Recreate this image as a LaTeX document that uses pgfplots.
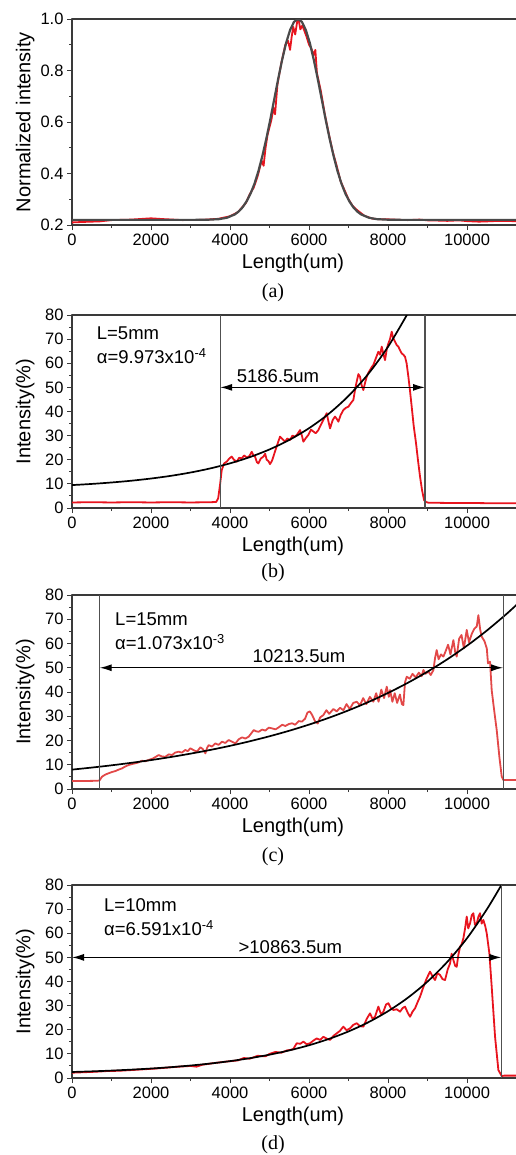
\documentclass[border=0pt]{standalone}
\usepackage{fontspec}
\setmainfont{Liberation Sans}
\newfontfamily\capfont{Liberation Serif}
\usepackage{pgfplots}
\pgfplotsset{compat=1.18}
\usetikzlibrary{arrows.meta}

\definecolor{redline}{HTML}{E8141E}
\definecolor{redlight}{HTML}{E24848}
\definecolor{fitgray}{HTML}{4A4A4A}
\definecolor{axgray}{HTML}{3A3A3A}
\definecolor{vgray}{HTML}{505050}

\tikzset{
  note/.style={font=\fontsize{18.5bp}{22bp}\selectfont, inner sep=0pt},
  arr/.style={black, line width=1.3bp, {Latex[length=12bp,width=7bp]}-{Latex[length=12bp,width=7bp]}},
  vline/.style={vgray, line width=1.2bp},
}

\pgfplotsset{
  panel/.style={
    scale only axis, width=446.4bp,
    xmin=0, xmax=11300,
    xtick={0,2000,4000,6000,8000,10000}, minor x tick num=1,
    minor y tick num=1,
    tick pos=left, tick align=outside,
    major tick length=5bp, minor tick length=3bp,
    every tick/.style={axgray, line width=1bp},
    axis line style={axgray, line width=1.5bp},
    tick label style={font=\fontsize{16.5bp}{19bp}\selectfont},
    label style={font=\fontsize{20bp}{23bp}\selectfont},
    /pgf/number format/assume math mode=true,
    /pgf/number format/set thousands separator={},
    scaled x ticks=false,
    xlabel={Length(um)},
    xlabel style={at={(axis description cs:0.495,0)}, anchor=center, yshift=-38bp},
    ylabel style={at={(axis description cs:-0.105,0.5)}, anchor=center},
    line join=round,
  },
  pct/.style={ymin=0, ymax=80, ytick={0,10,20,30,40,50,60,70,80}, ylabel={Intensity(\%)}},
}

\begin{document}
\begin{tikzpicture}
\path[use as bounding box] (0,0) rectangle (516bp,-1155bp);

% (a)
\begin{axis}[panel, at={(72bp,-225bp)}, height=206bp,
  ymin=0.2, ymax=1.0, ytick={0.2,0.4,0.6,0.8,1.0},
  yticklabel style={/pgf/number format/.cd, fixed, fixed zerofill, precision=1},
  ylabel={Normalized intensity}]
\addplot[redline, line width=1.8bp] coordinates {
(0,0.210) (300,0.212) (700,0.214) (1000,0.219) (1500,0.221) (2000,0.226) (2300,0.223)
(2800,0.219) (3300,0.220) (3700,0.224) (4000,0.234) (4200,0.250) (4400,0.285) (4500,0.320)
(4600,0.345) (4700,0.390) (4800,0.450) (4850,0.430) (4900,0.500) (4950,0.550) (5000,0.580)
(5050,0.610) (5100,0.655) (5140,0.630) (5200,0.745) (5300,0.830) (5400,0.900) (5470,0.915)
(5520,0.880) (5560,0.930) (5600,0.970) (5650,0.940) (5700,0.990) (5740,0.995) (5780,0.960)
(5830,0.975) (5880,0.955) (5940,0.930) (6000,0.900) (6060,0.885) (6120,0.860) (6160,0.880)
(6200,0.790) (6300,0.720) (6400,0.630) (6500,0.555) (6600,0.485) (6700,0.430) (6800,0.370)
(6900,0.335) (7000,0.300) (7100,0.275) (7200,0.260) (7400,0.236) (7600,0.225) (7800,0.222)
(8000,0.222) (8300,0.220) (8500,0.219) (8800,0.221) (9000,0.218) (9300,0.217) (9500,0.216)
(9800,0.218) (10000,0.215) (10300,0.213) (10500,0.214) (10800,0.216) (11000,0.216) (11300,0.214)};
\addplot[fitgray, line width=2.2bp] coordinates {
(0,0.220) (3120,0.220) (3420,0.2204) (3720,0.2227) (3920,0.228) (4120,0.241) (4220,0.2525)
(4320,0.269) (4420,0.292) (4520,0.322) (4620,0.361) (4720,0.410) (4820,0.469) (4920,0.536)
(5020,0.610) (5120,0.689) (5220,0.768) (5320,0.842) (5420,0.907) (5520,0.957) (5620,0.989)
(5720,1.000) (5820,0.989) (5920,0.957) (6020,0.907) (6120,0.842) (6220,0.768) (6320,0.689)
(6420,0.610) (6520,0.536) (6620,0.469) (6720,0.410) (6820,0.361) (6920,0.322) (7020,0.292)
(7120,0.269) (7220,0.2525) (7320,0.241) (7520,0.228) (7720,0.2227) (8020,0.2204) (8320,0.220)
(11300,0.220)};
\end{axis}
\node[font=\capfont\fontsize{20bp}{24bp}\selectfont] at (273bp,-293bp) {(a)};

% (b)
\begin{axis}[panel, pct, at={(72bp,-508bp)}, height=193bp]
\addplot[redline, line width=1.8bp] coordinates {
(0,2.3) (500,2.4) (1000,2.3) (1500,2.4) (2000,2.3) (2500,2.4) (3000,2.3) (3500,2.4) (3650,2.5)
(3700,4) (3750,10) (3790,15.7) (3850,18.5) (3916,19.2) (3980,20.5) (4042,21.3) (4100,20.0)
(4169,19.2) (4230,20.8) (4295,20.6) (4360,21.8) (4422,20.9) (4490,21.5) (4549,23.3) (4590,22.0)
(4633,21.3) (4680,19.0) (4717,18.5) (4780,20.5) (4844,21.3) (4890,22.5) (4928,20) (4970,19.5)
(5013,18.2) (5060,19.5) (5097,21.3) (5180,25.5) (5266,29.6) (5330,28.5) (5392,27.5) (5450,28.8)
(5519,28.2) (5580,30.0) (5646,29.6) (5700,30.5) (5772,32.3) (5820,30) (5857,27.5) (5920,29)
(5983,30.3) (6050,32.5) (6110,31.7) (6170,31.0) (6236,32.3) (6300,34.5) (6363,36.5) (6447,39.3)
(6490,36.0) (6532,33.0) (6600,36.5) (6658,37.9) (6700,37.0) (6743,35.8) (6800,38.5) (6869,40.6)
(6930,41.5) (6996,42.0) (7060,43.5) (7122,44.8) (7170,49.5) (7207,52.4) (7250,55.5) (7291,54.4)
(7330,51) (7375,48.9) (7420,52) (7460,54.4) (7500,56) (7544,57.2) (7590,58.5) (7628,59.3)
(7690,62) (7755,64.8) (7800,63.5) (7840,66.9) (7880,64) (7924,61.3) (7970,66) (8008,68.2)
(8050,70) (8093,73.1) (8130,70.5) (8177,68.9) (8220,67.5) (8262,66.9) (8300,65.5) (8346,64.1)
(8390,63.5) (8430,62.7) (8470,60) (8515,54.4) (8560,48) (8599,42.0) (8650,34) (8709,26.8)
(8760,19.5) (8810,13.0) (8860,7.5) (8911,3.3) (8960,2.5) (9021,2.2) (9500,2.1) (10000,2.1)
(10500,2.0) (11000,2.0) (11300,2.0)};
\addplot[black, line width=1.7bp, smooth] coordinates {
(0,9.50) (500,9.98) (1000,10.58) (1500,11.31) (2000,12.22) (2500,13.33) (3000,14.71)
(3500,16.41) (4000,18.51) (4500,21.09) (5000,24.28) (5500,28.22) (6000,33.08) (6500,39.06)
(7000,46.47) (7500,55.59) (8000,66.83) (8480,80.1)};
\addplot[vline] coordinates {(3750,0) (3750,80)};
\addplot[vline] coordinates {(8936.5,0) (8936.5,80)};
\addplot[arr] coordinates {(3750,50) (8936.5,50)};
\node[note, anchor=west] at (axis cs:625,72.3) {L=5mm};
\node[note, anchor=west] at (axis cs:625,62.9) {α=9.973x10\textsuperscript{-4}};
\node[note] at (axis cs:5215,54.7) {5186.5um};
\end{axis}
\node[font=\capfont\fontsize{20bp}{24bp}\selectfont] at (273bp,-573bp) {(b)};

% (c)
\begin{axis}[panel, pct, at={(72bp,-789bp)}, height=194bp]
\addplot[redlight, line width=1.8bp] coordinates {
(0,3.3) (300,3.3) (650,3.4) (700,3.6) (760,5.1) (850,6.0) (928,6.5) (1010,7.0) (1097,7.4)
(1180,8.0) (1266,8.5) (1350,9.3) (1435,9.9) (1520,10.3) (1603,10.6) (1690,11.0) (1772,11.7)
(1850,11.4) (1941,12.0) (2050,12.6) (2194,14.0) (2280,13.4) (2363,13.3) (2450,14.3) (2532,14.0)
(2610,15.0) (2700,15.4) (2780,15.0) (2869,16.1) (2930,15.6) (2996,16.8) (3080,16.0) (3165,15.4)
(3249,17.2) (3310,16.5) (3376,14.7) (3420,17.0) (3460,18.1) (3540,17.5) (3629,18.8) (3710,18.2)
(3797,19.5) (3880,19.0) (3966,20.2) (4050,19.5) (4135,18.8) (4220,20.5) (4304,21.3) (4390,20.8)
(4473,21.6) (4540,23.0) (4599,24.3) (4660,23.8) (4726,23.6) (4810,24.5) (4895,24.1) (4980,25.3)
(5063,25.0) (5150,24.6) (5232,25.4) (5320,26.5) (5401,26.0) (5490,26.8) (5570,27.1) (5650,26.5)
(5738,28.0) (5820,27.8) (5900,29.0) (5960,31.5) (6020,32.0) (6080,30.5) (6150,28.0) (6220,27.0)
(6280,29.5) (6363,30.5) (6440,32.5) (6510,31.0) (6616,33.0) (6700,32.0) (6785,33.5) (6870,32.5)
(6950,35.0) (7030,33.0) (7120,35.5) (7207,36.0) (7290,34.5) (7370,37.5) (7450,35.0) (7540,38.0)
(7629,36.0) (7700,39.5) (7760,36.0) (7830,41.0) (7900,37.5) (7967,42.2) (8020,38.0) (8051,40.8)
(8110,36.0) (8170,39.5) (8230,35.5) (8300,39.0) (8350,35.0) (8388,34.6) (8430,44.0) (8473,46.3)
(8550,45.5) (8620,47.5) (8700,46.0) (8780,48.0) (8850,46.5) (8895,49.1) (8950,47.5) (9020,48.5)
(9080,47.0) (9148,49.0) (9190,54.0) (9232,57.3) (9280,53.5) (9340,55.5) (9401,54.6) (9450,56.5)
(9520,59.5) (9580,55.5) (9654,61.4) (9700,56.5) (9738,54.6) (9800,62.0) (9860,63.5) (9920,58.0)
(9992,65.6) (10050,60.5) (10120,64.0) (10180,66.0) (10245,67.0) (10287,71.7) (10330,66.0)
(10371,62.8) (10440,61.0) (10500,58.0) (10530,51.8) (10582,52.5) (10624,40.8) (10690,32.0)
(10751,24.3) (10820,13.0) (10878,5.1) (10920,3.7) (11000,3.7) (11300,3.7)};
\addplot[black, line width=1.7bp, smooth] coordinates {
(0,8.00) (500,8.84) (1000,9.77) (1500,10.80) (2000,11.93) (2500,13.19) (3000,14.58)
(3500,16.11) (4000,17.80) (4500,19.68) (5000,21.75) (5500,24.03) (6000,26.56) (6500,29.35)
(7000,32.44) (7500,35.85) (8000,39.62) (8500,43.79) (9000,48.40) (9500,53.49) (10000,59.11)
(10500,65.33) (11000,72.20) (11300,76.66)};
\addplot[vline] coordinates {(700,0) (700,80)};
\addplot[vline] coordinates {(10913.5,0) (10913.5,80)};
\addplot[arr] coordinates {(700,50) (10913.5,50)};
\node[note, anchor=west] at (axis cs:1089,70.1) {L=15mm};
\node[note, anchor=west] at (axis cs:1089,60.7) {α=1.073x10\textsuperscript{-3}};
\node[note] at (axis cs:5747,54.6) {10213.5um};
\end{axis}
\node[font=\capfont\fontsize{20bp}{24bp}\selectfont] at (273bp,-857bp) {(c)};

% (d)
\begin{axis}[panel, pct, at={(72bp,-1078bp)}, height=193bp]
\addplot[redline, line width=1.8bp] coordinates {
(0,2.2) (300,2.4) (600,2.6) (900,2.9) (1200,3.0) (1500,3.3) (1800,3.6) (2100,3.9) (2400,4.3)
(2700,4.7) (3000,5.0) (3150,4.7) (3300,5.5) (3600,6.2) (3900,6.8) (4200,7.3) (4350,8.3) (4500,8.0)
(4700,9.2) (4900,9.0) (5000,10.0) (5150,10.8) (5300,10.5) (5450,11.5) (5519,11.6) (5600,12.0)
(5688,14.4) (5780,14.2) (5857,15.1) (5940,14.0) (6025,14.4) (6110,15.5) (6194,16.4) (6280,15.8)
(6363,17.1) (6450,16.3) (6532,15.8) (6620,17.5) (6700,18.5) (6780,19.5) (6869,21.3) (6950,19.8)
(7038,20.6) (7120,22.0) (7207,22.7) (7290,21.5) (7376,21.3) (7460,24.5) (7544,26.8) (7610,24.5)
(7671,25.4) (7755,29.6) (7820,26.5) (7882,27.5) (7950,30.5) (8008,31.0) (8070,29.0) (8135,28.2)
(8220,28.5) (8304,27.5) (8370,29.0) (8430,29.6) (8500,27.0) (8557,25.4) (8620,27.5) (8684,28.9)
(8750,31.5) (8810,33.7) (8890,37.5) (8979,41.3) (9063,44.1) (9130,42.0) (9190,40.6) (9250,43.5)
(9316,42.7) (9380,41.0) (9443,40.6) (9510,45.0) (9570,47.5) (9610,51.5) (9654,48.9) (9700,46.5)
(9738,46.1) (9780,51.0) (9823,54.4) (9865,55.5) (9907,57.9) (9950,62.0) (9992,66.9) (10030,62.0)
(10076,64.1) (10120,67.5) (10160,68.3) (10200,63.5) (10245,64.1) (10290,67.0) (10329,68.3)
(10370,64.0) (10413,65.5) (10460,63.0) (10498,60.0) (10565,51.7) (10624,37.9) (10709,17.1)
(10793,3.3) (10878,0.8) (10950,1.0) (11300,1.0)};
\addplot[black, line width=1.7bp, smooth] coordinates {
(0,2.50) (500,2.76) (1000,3.08) (1500,3.47) (2000,3.93) (2500,4.49) (3000,5.18) (3500,6.00)
(4000,7.00) (4500,8.21) (5000,9.67) (5500,11.44) (6000,13.58) (6500,16.18) (7000,19.31)
(7500,23.10) (8000,27.70) (8500,33.26) (9000,39.99) (9500,48.14) (10000,57.96) (10500,69.89)
(10870,80.0)};
\addplot[vline] coordinates {(10870,0) (10870,80)};
\addplot[arr] coordinates {(0,50) (10870,50)};
\node[note, anchor=west] at (axis cs:810,71.7) {L=10mm};
\node[note, anchor=west] at (axis cs:810,62.2) {α=6.591x10\textsuperscript{-4}};
\node[note] at (axis cs:5527,54.3) {>10863.5um};
\end{axis}
\node[font=\capfont\fontsize{20bp}{24bp}\selectfont] at (273bp,-1145bp) {(d)};
\end{tikzpicture}
\end{document}
